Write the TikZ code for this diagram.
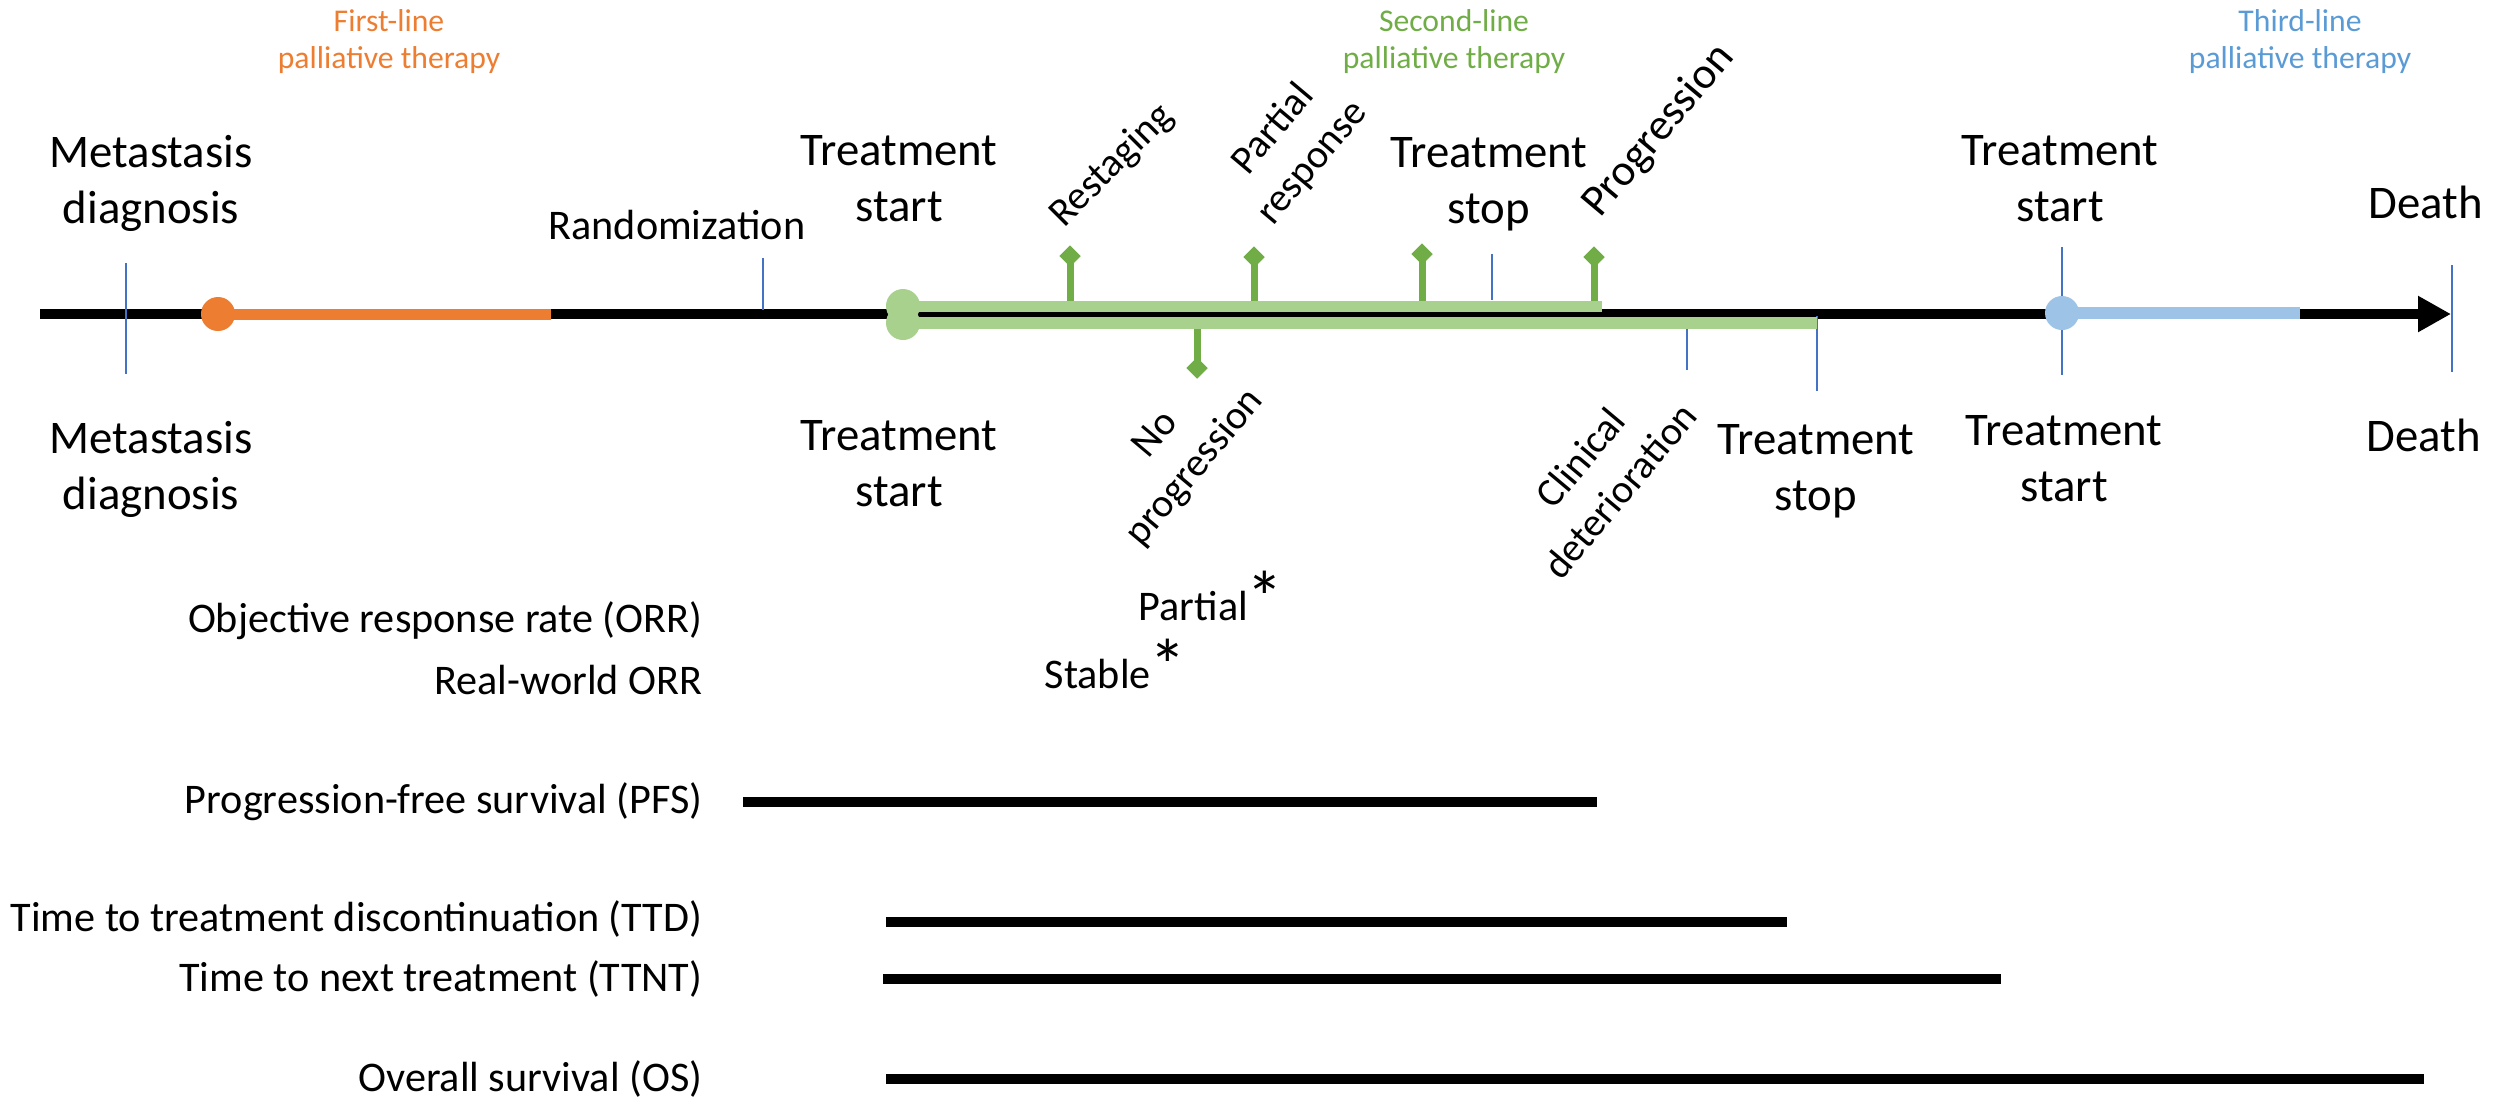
\documentclass[tikz,border=0pt]{standalone}
\usepackage{fontspec}
\setmainfont{Carlito}
\usetikzlibrary{arrows.meta,positioning,shapes.geometric}

\definecolor{firstline}{HTML}{ED7D31}
\definecolor{secondline}{HTML}{70AD47}
\definecolor{secondbar}{HTML}{A9D18E}
\definecolor{thirdline}{HTML}{5B9BD5}
\definecolor{thirdbar}{HTML}{9DC3E6}
\definecolor{tickblue}{HTML}{4472C4}

\tikzset{
  event/.style={align=center,font=\fontsize{13.3}{15.9}\selectfont},
  outcome/.style={anchor=base east,font=\fontsize{12}{14.4}\selectfont},
  therapy/.style={align=center,font=\fontsize{9}{10.5}\selectfont},
  finding/.style={align=center,font=\fontsize{11.4}{14.6}\selectfont},
  tickline/.style={draw=tickblue,line width=0.02cm},
  stem/.style={draw=secondline,line width=0.07cm},
  gem/.style={diamond,fill=secondline,minimum width=0.22cm,minimum height=0.22cm},
  dot/.style={circle,minimum size=0.34cm},
  interval/.style={line width=0.1cm},
}
\newcommand{\starmark}{\kern-0.5pt\raisebox{-1pt}{\fontsize{21}{21}\selectfont *}}

\begin{document}
\begin{tikzpicture}[x=0.01cm,y=-0.01cm,every node/.style={inner sep=0pt}]
\useasboundingbox (0,0) rectangle (2501,1099);

% time axis
\coordinate (t0) at (40,314);
\coordinate (t1) at (2451,314);
\draw[line width=0.105cm,-{Triangle[length=0.33cm,width=0.34cm]}] (t0) -- (t1);

% event markers on the axis
\draw[tickline] (126,263) -- (126,374);
\draw[tickline] (763,258) -- (763,310);
\draw[tickline] (1492,254) -- (1492,300);
\draw[tickline] (1687,317) -- (1687,370);
\draw[tickline] (1817,316) -- (1817,391);
\draw[tickline] (2062,247) -- (2062,375);
\draw[tickline] (2452,265) -- (2452,372);

% first line
\node[dot,fill=firstline] (l1) at (218,314) {};
\draw[firstline,line width=0.11cm] (l1.center) -- (551,314);

% second line, restaging results
\node[gem] (restage) at (1070,256) {};
\node[gem] (partial) at (1254,257) {};
\node[gem] (stopped) at (1422,254) {};
\node[gem] (progress) at (1594,257) {};
\node[gem] (noprog) at (1197,368) {};
\node[dot,fill=secondbar] (l2a) at (903,306) {};
\node[dot,fill=secondbar] (l2b) at (903,323) {};
\foreach \g in {restage,partial,stopped,progress}
  \draw[stem] (\g.center) -- (\g |- l2a);
\draw[stem] (noprog.center) -- (noprog |- l2b);
\draw[secondbar,line width=0.11cm] (l2a.center) -- (1602,306);
\draw[secondbar,line width=0.12cm] (l2b.center) -- (1817,323);

% third line
\node[dot,fill=thirdbar] (l3) at (2062,313) {};
\draw[thirdbar,line width=0.125cm] (l3.center) -- (2300,313);

% therapy lines
\node[therapy,text=firstline] (th1) at (389,42) {First-line\\palliative therapy};
\node[therapy,text=secondline] (th2) at (1454,42) {Second-line\\palliative therapy};
\node[therapy,text=thirdline] (th3) at (2300,42) {Third-line\\palliative therapy};

% events above and below
\node[event] (diagtop) at (151,183) {Metastasis\\diagnosis};
\node[event] (diagbot) at (151,469) {Metastasis\\diagnosis};
\node[font=\fontsize{12}{14.4}\selectfont,anchor=base] (random) at (677,239) {Randomization};
\node[event] (start2top) at (899,179) {Treatment\\start};
\node[event] (start2bot) at (899,464) {Treatment\\start};
\node[event] (stop2top) at (1489,184) {Treatment\\stop};
\node[event] (stop2bot) at (1816,471) {Treatment\\stop};
\node[event] (start3top) at (2060,179) {Treatment\\start};
\node[event] (start3bot) at (2064,459) {Treatment\\start};
\node[event,anchor=base] (deathtop) at (2426,218) {Death};
\node[event,anchor=base] (deathbot) at (2424,451) {Death};

\node[finding,rotate=45] (restagetxt) at (1112,166) {Restaging};
\node[finding,rotate=50] (partialtxt) at (1293,146) {Partial\\response};
\node[finding,rotate=50,font=\fontsize{12.6}{15}\selectfont] (progresstxt) at (1659,131) {Progression};
\node[finding,rotate=50] (noprogtxt) at (1176,452) {No\\progression};
\node[finding,rotate=50] (clinictxt) at (1600,474) {Clinical\\deterioration};

% outcome measures
\node[outcome] (orr) at (703,632) {Objective response rate (ORR)};
\node[outcome] (rworr) at (703,694) {Real-world ORR};
\node[outcome] (pfs) at (703,813) {Progression-free survival (PFS)};
\node[outcome] (ttd) at (703,931) {Time to treatment discontinuation (TTD)};
\node[outcome] (ttnt) at (703,991) {Time to next treatment (TTNT)};
\node[outcome] (os) at (703,1091) {Overall survival (OS)};

\node[anchor=base west,font=\fontsize{12}{14.4}\selectfont] (rpartial) at (1138,620) {Partial\starmark};
\node[anchor=base west,font=\fontsize{12}{14.4}\selectfont] (rstable) at (1044,688) {Stable\starmark};

\draw[interval] (743,802) -- (1597,802);
\draw[interval] (886,922) -- (1787,922);
\draw[interval] (883,979) -- (2001,979);
\draw[interval] (886,1079) -- (2424,1079);
\end{tikzpicture}
\end{document}
